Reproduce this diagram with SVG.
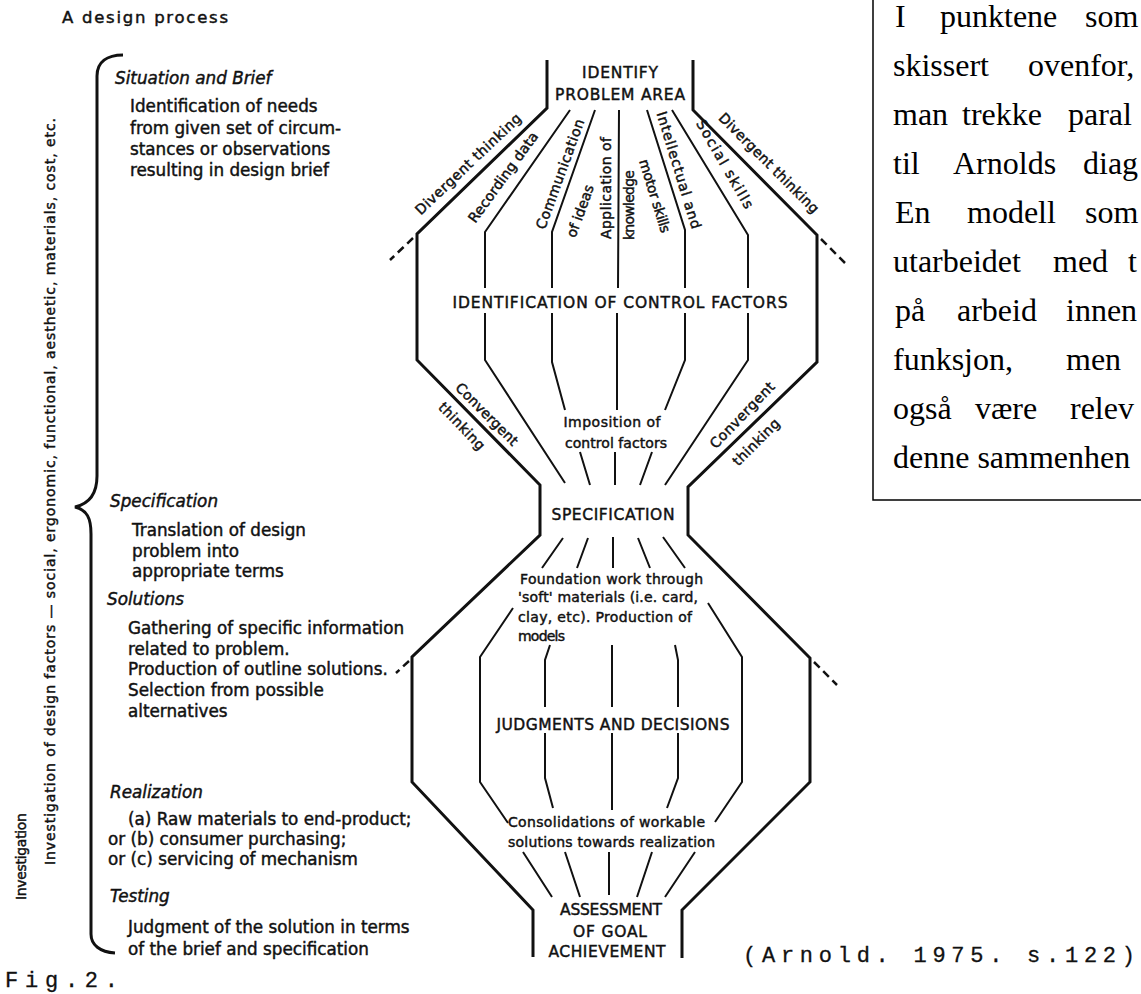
<svg xmlns="http://www.w3.org/2000/svg" width="1141" height="994" viewBox="0 0 1141 994">
<style>
.t{font-family:"DejaVu Sans",sans-serif;fill:#111;stroke:#111;stroke-width:0.45}
.b{font-size:16.8px}
.h{font-size:16.8px;font-style:italic}
.c{font-size:15.5px}
.s{font-size:14px}
.r{font-size:14px}
.v{font-size:14px}
.m{font-family:"Liberation Mono",monospace;font-size:22px;fill:#111;stroke:#111;stroke-width:0.3}
.sf{font-family:"Liberation Serif",serif;font-size:32px;fill:#000}
.o{fill:none;stroke:#111;stroke-width:3;stroke-linejoin:miter}
.i{fill:none;stroke:#111;stroke-width:2}
.d{fill:none;stroke:#111;stroke-width:2.5;stroke-dasharray:8 5}
.br{fill:none;stroke:#111;stroke-width:3}
.box{fill:none;stroke:#000;stroke-width:1.5}
</style>
<rect width="1141" height="994" fill="#fff"/>

<g id="title">
<text class="t" x="62" y="23" font-size="16.5" textLength="166">A design process</text>
</g>

<g id="left-brace">
<path class="br" d="M123,55 C107,55 97,62 97,76 V476 C97,495 88,504 75,507 C87,510 91,518 91,534 V934 C91,945 100,952 115,953"/>
<text class="t v" x="26" y="900" transform="rotate(-90 26 900)" textLength="87">Investigation</text>
<text class="t v" x="55" y="865" transform="rotate(-90 55 865)" textLength="747">Investigation of design factors — social, ergonomic, functional, aesthetic, materials, cost, etc.</text>
</g>

<g id="stage-situation">
<text class="t h" x="115" y="84">Situation and Brief</text>
<text class="t b" x="130" y="112">Identification of needs</text>
<text class="t b" x="130" y="134">from given set of circum-</text>
<text class="t b" x="130" y="155">stances or observations</text>
<text class="t b" x="130" y="176">resulting in design brief</text>
</g>
<g id="stage-specification">
<text class="t h" x="110" y="507">Specification</text>
<text class="t b" x="132" y="536">Translation of design</text>
<text class="t b" x="132" y="557">problem into</text>
<text class="t b" x="132" y="577">appropriate terms</text>
</g>
<g id="stage-solutions">
<text class="t h" x="107" y="605">Solutions</text>
<text class="t b" x="128" y="634">Gathering of specific information</text>
<text class="t b" x="128" y="655">related to problem.</text>
<text class="t b" x="128" y="675">Production of outline solutions.</text>
<text class="t b" x="128" y="696">Selection from possible</text>
<text class="t b" x="128" y="717">alternatives</text>
</g>
<g id="stage-realization">
<text class="t h" x="110" y="798">Realization</text>
<text class="t b" x="128" y="825">(a) Raw materials to end-product;</text>
<text class="t b" x="108" y="845">or (b) consumer purchasing;</text>
<text class="t b" x="108" y="865">or (c) servicing of mechanism</text>
</g>
<g id="stage-testing">
<text class="t h" x="110" y="902">Testing</text>
<text class="t b" x="128" y="933">Judgment of the solution in terms</text>
<text class="t b" x="128" y="955">of the brief and specification</text>
</g>

<g id="connectors">
<path class="o" d="M547,60 V108 L417,234 V360 L540,485 V535 L412,657 V782 L533,910 V957"/>
<path class="o" d="M693,60 V110 L817,235 V362 L688,487 V535 L810,658 V782 L682,910 V958"/>
<path class="d" d="M413,238 L390,260"/>
<path class="d" d="M821,239 L845,263"/>
<path class="d" d="M409,661 L396,673" stroke-dasharray="3 3 8"/>
<path class="d" d="M814,662 L837,685" stroke-dasharray="6 4"/>
<path class="i" d="M570,110 L485,232 V288 M485,313 V360 L565,483"/>
<path class="i" d="M595,110 L552,232 V288 M552,313 V362 L565,410"/>
<path class="i" d="M619,110 L618,288 M617,313 V410"/>
<path class="i" d="M647,110 L685,230 V288 M685,313 V360 L665,410"/>
<path class="i" d="M672,110 L748,235 V288 M748,313 V360 L665,485"/>
<path class="i" d="M580,452 L590,485 M615,452 V485 M652,452 L640,485"/>
<path class="i" d="M563,538 L542,568 M588,538 L577,568 M613,537 V568 M638,538 L650,568 M663,537 L685,568"/>
<path class="i" d="M513,608 L480,657 V782 L508,823"/>
<path class="i" d="M550,645 L545,660 V707 M545,733 V778 L553,808"/>
<path class="i" d="M612,645 V707 M612,733 V810"/>
<path class="i" d="M675,645 L678,660 V707 M678,733 V778 L667,808"/>
<path class="i" d="M708,603 L742,657 V782 L715,822"/>
<path class="i" d="M523,852 L552,897 M565,852 L580,897 M609,852 V895 M652,852 L637,897 M695,852 L665,897"/>
</g>

<g id="labels">
<text class="t r" x="468" y="164" text-anchor="middle" dominant-baseline="central" transform="rotate(-43.5 468 164)" textLength="140">Divergent thinking</text>
<text class="t r" x="503" y="177" text-anchor="middle" dominant-baseline="central" transform="rotate(-54 503 177)" textLength="108">Recording data</text>
<text class="t r" x="560" y="174" text-anchor="middle" dominant-baseline="central" transform="rotate(-70 560 174)" textLength="116">Communication</text>
<text class="t r" x="580" y="211" text-anchor="middle" dominant-baseline="central" transform="rotate(-70 580 211)" textLength="55">of ideas</text>
<text class="t r" x="606" y="188" text-anchor="middle" dominant-baseline="central" transform="rotate(-90 606 188)" textLength="102">Application of</text>
<text class="t r" x="629" y="205" text-anchor="middle" dominant-baseline="central" transform="rotate(-90 629 205)" textLength="70">knowledge</text>
<text class="t r" x="679" y="170" text-anchor="middle" dominant-baseline="central" transform="rotate(73 679 170)" textLength="122">Intellectual and</text>
<text class="t r" x="655" y="196" text-anchor="middle" dominant-baseline="central" transform="rotate(73 655 196)" textLength="76">motor skills</text>
<text class="t r" x="725" y="164" text-anchor="middle" dominant-baseline="central" transform="rotate(60 725 164)" textLength="100">Social skills</text>
<text class="t r" x="769" y="163" text-anchor="middle" dominant-baseline="central" transform="rotate(45 769 163)" textLength="135">Divergent thinking</text>
<text class="t r" x="487" y="414" text-anchor="middle" dominant-baseline="central" transform="rotate(45 487 414)" textLength="82">Convergent</text>
<text class="t r" x="462" y="426" text-anchor="middle" dominant-baseline="central" transform="rotate(46 462 426)" textLength="60">thinking</text>
<text class="t r" x="742" y="415" text-anchor="middle" dominant-baseline="central" transform="rotate(-46 742 415)" textLength="86">Convergent</text>
<text class="t r" x="756" y="442" text-anchor="middle" dominant-baseline="central" transform="rotate(-45 756 442)" textLength="60">thinking</text>
</g>

<g id="identify">
<text class="t c" x="620" y="78" text-anchor="middle" textLength="76">IDENTIFY</text>
<text class="t c" x="620" y="100" text-anchor="middle" textLength="130">PROBLEM AREA</text>
</g>
<g id="control-factors">
<text class="t c" x="620" y="308" text-anchor="middle" textLength="335">IDENTIFICATION OF CONTROL FACTORS</text>
</g>
<g id="imposition">
<text class="t s" x="612" y="427" text-anchor="middle" textLength="97">Imposition of</text>
<text class="t s" x="616" y="448" text-anchor="middle" textLength="102">control factors</text>
</g>
<g id="specification">
<text class="t c" x="613" y="520" text-anchor="middle" textLength="123">SPECIFICATION</text>
</g>
<g id="foundation">
<text class="t s" x="520" y="584" textLength="183">Foundation work through</text>
<text class="t s" x="518" y="602" textLength="180">'soft' materials (i.e. card,</text>
<text class="t s" x="518" y="622" textLength="174">clay, etc). Production of</text>
<text class="t s" x="518" y="641" textLength="47">models</text>
</g>
<g id="judgments">
<text class="t c" x="613" y="730" text-anchor="middle" textLength="233">JUDGMENTS AND DECISIONS</text>
</g>
<g id="consolidations">
<text class="t s" x="508" y="827" textLength="197">Consolidations of workable</text>
<text class="t s" x="508" y="847" textLength="207">solutions towards realization</text>
</g>
<g id="assessment">
<text class="t c" x="611" y="915" text-anchor="middle" textLength="102">ASSESSMENT</text>
<text class="t c" x="610" y="937" text-anchor="middle" textLength="74">OF GOAL</text>
<text class="t c" x="607" y="957" text-anchor="middle" textLength="117">ACHIEVEMENT</text>
</g>

<g id="citation">
<text class="m" x="743" y="962" textLength="392">(Arnold. 1975. s.122)</text>
</g>
<g id="figure-label">
<text class="m" x="5" y="987" textLength="113">Fig.2.</text>
</g>

<g id="text-box">
<path class="box" d="M873,0 V500 H1141"/>
<text class="sf" y="27"><tspan x="895">I</tspan><tspan x="940">punktene</tspan><tspan x="1085">som</tspan></text>
<text class="sf" y="76"><tspan x="893">skissert</tspan><tspan x="1028">ovenfor,</tspan></text>
<text class="sf" y="125"><tspan x="893">man</tspan><tspan x="962">trekke</tspan><tspan x="1068">paral</tspan></text>
<text class="sf" y="174"><tspan x="893">til</tspan><tspan x="953">Arnolds</tspan><tspan x="1083">diag</tspan></text>
<text class="sf" y="223"><tspan x="895">En</tspan><tspan x="967">modell</tspan><tspan x="1085">som</tspan></text>
<text class="sf" y="272"><tspan x="893">utarbeidet</tspan><tspan x="1053">med</tspan><tspan x="1128">t</tspan></text>
<text class="sf" y="321"><tspan x="895">på</tspan><tspan x="957">arbeid</tspan><tspan x="1066">innen</tspan></text>
<text class="sf" y="370"><tspan x="893">funksjon,</tspan><tspan x="1066">men</tspan></text>
<text class="sf" y="419"><tspan x="893">også</tspan><tspan x="975">være</tspan><tspan x="1070">relev</tspan></text>
<text class="sf" y="468" x="893">denne sammenhen</text>
</g>
</svg>
